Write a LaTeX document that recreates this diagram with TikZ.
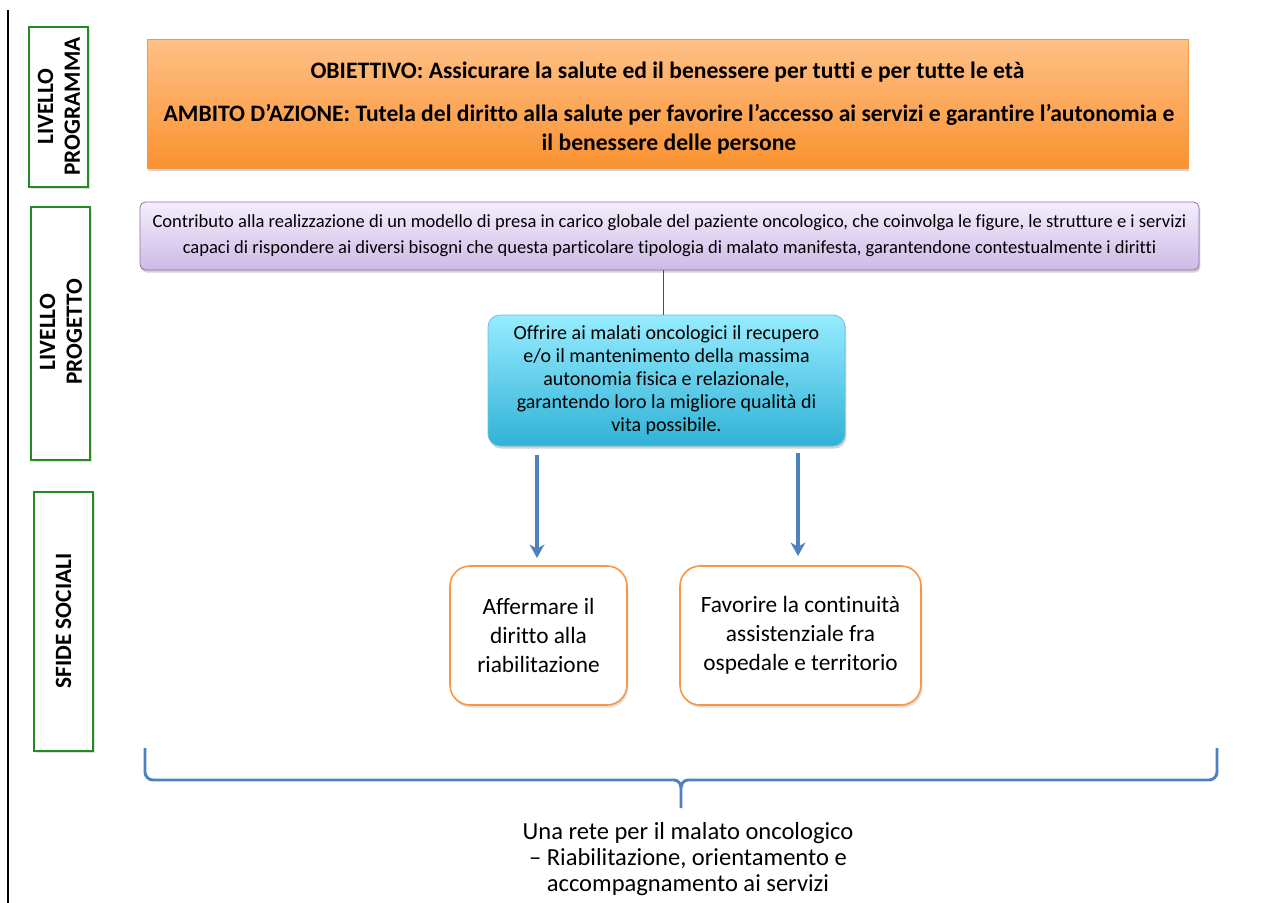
\documentclass[tikz,border=0pt]{standalone}
\usepackage{fontspec}
\setmainfont{Carlito}[Ligatures=NoCommon]
\usetikzlibrary{shadows,arrows.meta,calc}
\definecolor{lvlgreen}{RGB}{34,139,34}
\definecolor{orangeTop}{RGB}{255,192,135}
\definecolor{orangeBot}{RGB}{250,146,48}
\definecolor{orangeLine}{RGB}{247,150,70}
\definecolor{purpTop}{RGB}{244,238,252}
\definecolor{purpBot}{RGB}{204,186,230}
\definecolor{purpLine}{RGB}{140,115,165}
\definecolor{cyanTop}{RGB}{150,236,255}
\definecolor{cyanBot}{RGB}{48,178,214}
\definecolor{cyanLine}{RGB}{110,190,220}
\definecolor{arrowBlue}{RGB}{79,129,189}
\definecolor{connBlue}{RGB}{55,80,140}
\tikzset{
  lvlbox/.style={draw=lvlgreen, line width=1.2pt, fill=white,
    drop shadow={shadow xshift=1.5pt, shadow yshift=-1.5pt, opacity=0.25}},
  lvltext/.style={rotate=90, align=center, font=\fontsize{17.5}{20}\selectfont\bfseries},
  topbox/.style={draw=orangeLine, line width=0.5pt, top color=orangeTop, bottom color=orangeBot,
    drop shadow={shadow xshift=1pt, shadow yshift=-2pt, opacity=0.35}},
  purpbox/.style={draw=purpLine, line width=0.6pt, rounded corners=4pt, top color=purpTop, bottom color=purpBot,
    drop shadow={shadow xshift=1pt, shadow yshift=-2pt, opacity=0.35}},
  cyanbox/.style={draw=cyanLine, line width=0.6pt, rounded corners=9pt, top color=cyanTop, bottom color=cyanBot,
    drop shadow={shadow xshift=1pt, shadow yshift=-2pt, opacity=0.35}},
  chalbox/.style={draw=orangeLine, line width=1.2pt, rounded corners=15pt, fill=white,
    drop shadow={shadow xshift=1pt, shadow yshift=-2pt, opacity=0.25}},
  bluearrow/.style={draw=arrowBlue, line width=3pt, -{Stealth[length=10pt,width=11pt,inset=3pt]}},
}
\begin{document}
\begin{tikzpicture}[x=0.75pt,y=-0.75pt]
\useasboundingbox (0,0) rectangle (1275,903);
% left vertical line
\draw[line width=1.5pt] (8,10) -- (8,903);
% level boxes
\draw[lvlbox] (29,27) rectangle (88,187);
\node[lvltext] (lp) at (59,106.5) {LIVELLO\\PROGRAMMA};
\draw[lvlbox] (31,207) rectangle (90,460);
\node[lvltext] (lg) at (61,332) {LIVELLO\\PROGETTO};
\draw[lvlbox] (34,492) rectangle (93,751);
\node[lvltext] (ls) at (63.5,621) {SFIDE SOCIALI};
% top orange box
\draw[topbox] (147,39) rectangle (1188,168);
\node[font=\fontsize{17.7}{21.75}\selectfont\bfseries] (obj) at (667.5,72) {OBIETTIVO: Assicurare la salute ed il benessere per tutti e per tutte le età};
\node[font=\fontsize{17.7}{21.75}\selectfont\bfseries, align=center] (amb) at (669,129) {AMBITO D’AZIONE: Tutela del diritto alla salute per favorire l’accesso ai servizi e garantire l’autonomia e\\il benessere delle persone};
% purple box
\node[purpbox, minimum width=794.25pt, minimum height=51pt, align=center,
  font=\fontsize{13.9}{19.5}\selectfont] (purp) at (669.5,236)
  {Contributo alla realizzazione di un modello di presa in carico globale del paziente oncologico, che coinvolga le figure, le strutture e i servizi\\capaci di rispondere ai diversi bisogni che questa particolare tipologia di malato manifesta, garantendone contestualmente i diritti};
% cyan box
\node[cyanbox, minimum width=267.75pt, minimum height=98.25pt, align=center,
  font=\fontsize{15}{17.3}\selectfont] (cyan) at (666.5,380.5)
  {Offrire ai malati oncologici il recupero\\e/o il mantenimento della massima\\autonomia fisica e relazionale,\\garantendo loro la migliore qualità di\\vita possibile.};
\draw[connBlue, line width=0.6pt] (purp.south -| cyan.north) ++(-3,0) coordinate (c1) -- (c1 |- cyan.north);
% challenge boxes
\node[chalbox, minimum width=132.75pt, minimum height=104.25pt, align=center,
  font=\fontsize{17.5}{21.75}\selectfont] (c1box) at (538.5,635.5)
  {Affermare il\\diritto alla\\riabilitazione};
\node[chalbox, minimum width=180.75pt, minimum height=104.25pt, align=center,
  font=\fontsize{17.5}{21.75}\selectfont] (c2box) at (800.5,635.5)
  {Favorire la continuità\\assistenziale fra\\ospedale e territorio};
% arrows
\coordinate (a1s) at (537,455);
\coordinate (a2s) at (798,453);
\draw[bluearrow] (a1s) -- (a1s |- 0,558);
\draw[bluearrow] (a2s) -- (a2s |- 0,556);
% brace
\coordinate (bl) at (145,748);
\coordinate (br) at (1217,748);
\coordinate (bm) at (681,808);
\draw[arrowBlue, line width=2.2pt, line join=round]
  (bl) -- (145,772) to[out=-90,in=180] (153,780) -- (674,780) to[out=0,in=90] (681,788) -- (bm);
\draw[arrowBlue, line width=2.2pt, line join=round]
  (br) -- (1217,772) to[out=-90,in=0] (1209,780) -- (688,780) to[out=180,in=90] (681,788);
% bottom text
\node[align=center, font=\fontsize{18.4}{19.5}\selectfont] (net) at (688,859)
  {Una rete per il malato oncologico\\– Riabilitazione, orientamento e\\accompagnamento ai servizi};
\end{tikzpicture}
\end{document}
